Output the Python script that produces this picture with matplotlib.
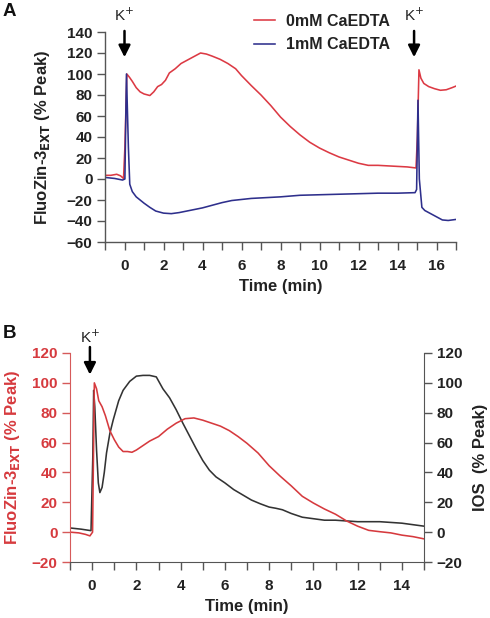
import matplotlib
matplotlib.use("Agg")
import matplotlib.pyplot as plt
import numpy as np

plt.rcParams['font.family'] = ['Liberation Sans', 'DejaVu Sans']

# ---------------- Panel A data ----------------
a_red_t = [-1.0, -0.7, -0.4, -0.2, -0.05, 0.02, 0.12, 0.25, 0.4, 0.6, 0.8, 1.0, 1.3, 1.5, 1.7,
           1.9, 2.1, 2.3, 2.6, 2.9, 3.2, 3.5, 3.9, 4.2, 4.5, 4.9, 5.3, 5.7, 6.0, 6.5, 7.0, 7.5,
           8.0, 8.5, 9.0, 9.5, 10.0, 10.5, 11.0, 11.5, 12.0, 12.5, 13.0, 13.5, 14.0, 14.5,
           14.95, 15.02, 15.1, 15.2, 15.35, 15.6, 15.9, 16.2, 16.5, 16.8, 17.0]
a_red_y = [3.5, 3.5, 4.5, 3.0, 0.5, 30, 100, 97, 93, 87, 83, 81, 79.5, 83, 88,
           90, 94, 101, 105, 110, 113, 116, 120, 119, 117, 114, 110, 105, 98.5, 89, 80, 70,
           59, 50, 42, 35, 29.5, 25, 21, 18, 15, 13, 13, 12.5, 12, 11.5,
           10.5, 40, 104, 96, 91, 88, 86, 84.5, 85, 87, 88.5]

a_blue_t = [-1.0, -0.5, -0.1, 0.02, 0.1, 0.2, 0.27, 0.4, 0.6, 0.8, 1.0, 1.3, 1.6, 2.0, 2.4,
            2.8, 3.2, 3.6, 4.0, 4.5, 5.0, 5.5, 6.0, 6.5, 7.0, 8.0, 9.0, 10.0, 11.0, 12.0,
            13.0, 14.0, 14.9, 14.98, 15.05, 15.12, 15.25, 15.4, 15.7, 16.0, 16.3, 16.6, 17.0]
a_blue_y = [1.5, 0.5, -1, 0, 100, 30, -5, -12, -17, -20, -23, -27, -30.5, -32.5, -33,
            -32, -30.5, -29, -27.5, -25, -22.5, -20.5, -19.5, -18.5, -18, -17, -15.5, -15, -14.5, -14,
            -13.5, -13.5, -13, -10, 75, 0, -27, -30, -33, -36, -39, -39.5, -38.5]

a_xticks = list(range(-1, 18))
a_xlabels = ['' if (v % 2 or v < 0) else str(v) for v in a_xticks]
a_yticks = list(range(-60, 141, 20))

# ---------------- Panel B data ----------------
b_red_t = [-1.0, -0.6, -0.3, -0.1, 0.02, 0.1, 0.2, 0.3, 0.45, 0.6, 0.8, 1.0, 1.2, 1.4, 1.6, 1.8,
           2.0, 2.3, 2.6, 3.0, 3.4, 3.8, 4.2, 4.6, 5.0, 5.4, 5.8, 6.2, 6.6, 7.0, 7.5, 8.0, 8.5,
           9.0, 9.5, 10.0, 10.5, 11.0, 11.5, 12.0, 12.5, 13.0, 13.5, 14.0, 14.5, 15.0]
b_red_y = [0, -0.5, -1.5, -2.5, 0, 100, 96, 88, 84, 78, 68, 62, 57, 54, 54, 53.5,
           55, 58, 61, 64, 69, 73, 76, 76.5, 75, 73, 71, 68, 64, 59.5, 53, 44.5, 37.5,
           31, 24, 19.5, 15.5, 12, 7.5, 4, 1.2, 0.3, -0.5, -2, -3, -4.5]

b_ios_t = [-1.0, -0.5, -0.05, 0.03, 0.07, 0.12, 0.2, 0.28, 0.35, 0.45, 0.55, 0.65, 0.8, 0.95,
           1.2, 1.4, 1.7, 2.0, 2.3, 2.6, 2.9, 3.2, 3.5, 3.8, 4.1, 4.4, 4.7, 5.0, 5.3, 5.6,
           6.0, 6.4, 6.8, 7.2, 7.6, 8.0, 8.3, 8.6, 9.0, 9.5, 10.0, 10.5, 11.0, 11.5, 12.0,
           12.5, 13.0, 13.5, 14.0, 14.5, 15.0]
b_ios_y = [2.8, 2, 1, 50, 95, 84, 55, 33, 26.5, 30, 40, 53, 66, 75,
           88, 95, 101, 104.5, 105, 105, 104, 96, 90, 82, 73, 64.5, 56, 48, 41.5, 37,
           33, 28.5, 25, 21.5, 19, 16.8, 16, 15, 12.5, 10, 9, 8, 8, 7.5, 7,
           7, 7, 6.5, 6, 5, 4]

b_xticks = list(range(-1, 16))
b_xlabels = ['' if (v % 2 or v < 0) else str(v) for v in b_xticks]
b_yticks = list(range(-20, 121, 20))

RED = '#dc3a44'
BLUE = '#2e2f8c'
BRED = '#d63a3e'
GRAY = '#555555'
DARK = '#333333'
TXT = '#222222'

W, H = 490, 618
fig = plt.figure(figsize=(W / 100, H / 100), dpi=100)

def fx(px):
    return px / W

def fy(py):
    return 1 - py / H

TICKFS = 11
LABFS = 12
LW = 1.15

def style_ticks(labels, color=TXT):
    for lab in labels:
        lab.set_fontweight('bold')
        lab.set_color(color)

# ---------------- Panel A ----------------
axA = fig.add_axes([fx(105), fy(242), (456 - 105) / W, (242 - 32) / H])
axA.plot(a_red_t, a_red_y, color=RED, lw=LW, label='0mM CaEDTA')
axA.plot(a_blue_t, a_blue_y, color=BLUE, lw=LW, label='1mM CaEDTA')
axA.set_xlim(-1, 17)
axA.set_ylim(-60, 140)
axA.set_xticks(a_xticks)
axA.set_xticklabels(a_xlabels)
axA.set_yticks(a_yticks)
for s in ['top', 'right']:
    axA.spines[s].set_visible(False)
for s in ['left', 'bottom']:
    axA.spines[s].set_color(GRAY)
    axA.spines[s].set_linewidth(1.0)
axA.tick_params(direction='out', length=6, width=1.0, color=GRAY, labelsize=TICKFS)
axA.tick_params(axis='x', pad=6)
axA.tick_params(axis='y', pad=3)
style_ticks(axA.get_xticklabels() + axA.get_yticklabels())
axA.set_xlabel('Time (min)', fontsize=LABFS, fontweight='bold', color=TXT, va='center')
axA.xaxis.set_label_coords(0.5, (242 - 287) / 210)
axA.set_ylabel('FluoZin-3$_{\\mathbf{EXT}}$ (% Peak)', fontsize=LABFS, fontweight='bold',
               color=TXT, va='center', ha='center')
axA.yaxis.set_label_coords((43 - 105) / 351, 0.5)

leg = axA.legend(loc='center left', bbox_to_anchor=(fx(254), fy(33)),
                 bbox_transform=fig.transFigure, frameon=False, borderpad=0,
                 borderaxespad=0, handlelength=1.3, handletextpad=0.7,
                 labelspacing=0.55, prop={'weight': 'bold', 'size': 11.5})
for t in leg.get_texts():
    t.set_color(TXT)

arrow_kw = dict(arrowstyle='-|>,head_width=0.35,head_length=0.7', color='black', lw=1.8,
                shrinkA=0, shrinkB=0)
for xk in [0.0, 14.85]:
    axA.annotate('', xy=(xk, 116), xytext=(xk, 141), arrowprops=arrow_kw,
                 annotation_clip=False)
    axA.text(xk, 150.5, 'K$^{+}$', ha='center', va='baseline', fontsize=11, color=TXT,
             clip_on=False)

fig.text(fx(3), fy(11), 'A', fontsize=13.5, fontweight='bold', ha='left', va='center',
         color='#111111')

# ---------------- Panel B ----------------
axB = fig.add_axes([fx(70), fy(562), (424 - 70) / W, (562 - 353) / H])
axB2 = axB.twinx()
axB.set_zorder(axB2.get_zorder() + 1)
axB.patch.set_visible(False)
axB2.plot(b_ios_t, b_ios_y, color=DARK, lw=LW)
axB.plot(b_red_t, b_red_y, color=BRED, lw=LW)
for ax in (axB, axB2):
    ax.set_xlim(-1, 15)
    ax.set_ylim(-20, 120)
    ax.spines['top'].set_visible(False)
axB.set_xticks(b_xticks)
axB.set_xticklabels(b_xlabels)
axB.set_yticks(b_yticks)
axB2.set_yticks(b_yticks)
axB.spines['right'].set_visible(False)
axB.spines['left'].set_color('#d65a5a')
axB.spines['bottom'].set_color(GRAY)
axB2.spines['left'].set_visible(False)
axB2.spines['bottom'].set_visible(False)
axB2.spines['right'].set_color(GRAY)
axB.tick_params(axis='x', direction='out', length=6, width=1.0, color=GRAY,
                labelsize=TICKFS, pad=6)
axB.tick_params(axis='y', direction='out', length=6, width=1.0, color='#d65a5a',
                labelsize=TICKFS, pad=3)
axB2.tick_params(axis='y', direction='out', length=6, width=1.0, color=GRAY,
                 labelsize=TICKFS, pad=3)
style_ticks(axB.get_xticklabels())
style_ticks(axB.get_yticklabels(), BRED)
style_ticks(axB2.get_yticklabels())
axB.set_xlabel('Time (min)', fontsize=LABFS, fontweight='bold', color=TXT, va='center')
axB.xaxis.set_label_coords(0.5, (562 - 607) / 209)
axB.set_ylabel('FluoZin-3$_{\\mathbf{EXT}}$ (% Peak)', fontsize=LABFS, fontweight='bold',
               color=BRED, va='center', ha='center')
axB.yaxis.set_label_coords((12 - 70) / 354, 0.5)
axB2.set_ylabel('IOS  (% Peak)', fontsize=LABFS, fontweight='bold', color=TXT,
                va='center', ha='center', rotation=90)
axB2.yaxis.set_label_coords((480 - 70) / 354, 0.5)

axB.annotate('', xy=(-0.1, 105.5), xytext=(-0.1, 124), arrowprops=arrow_kw,
             annotation_clip=False)
axB.text(-0.1, 127, 'K$^{+}$', ha='center', va='baseline', fontsize=11, color=TXT,
         clip_on=False)

fig.text(fx(3), fy(334), 'B', fontsize=13.5, fontweight='bold', ha='left', va='center',
         color='#111111')

fig.savefig('out.png', dpi=100)
